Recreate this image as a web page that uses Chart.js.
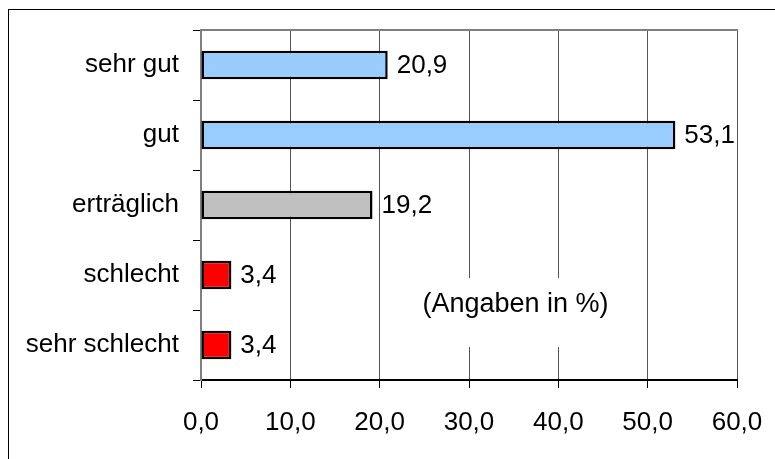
<!DOCTYPE html>
<html>
<head>
<meta charset="utf-8">
<script src="https://cdn.jsdelivr.net/npm/chart.js@4/dist/chart.umd.min.js"></script>
<style>
html,body{margin:0;padding:0;background:#fff;}
#wrap{width:775px;height:459px;position:relative;}
</style>
</head>
<body>
<div id="wrap"><canvas id="c" width="775" height="459"></canvas></div>
<script>
const categories = ["sehr gut", "gut", "erträglich", "schlecht", "sehr schlecht"];
const values = [20.9, 53.1, 19.2, 3.4, 3.4];
const barColors = ["#99CCFF", "#99CCFF", "#C0C0C0", "#FF0000", "#FF0000"];
const xTicks = [0, 10, 20, 30, 40, 50, 60];
const noteText = "(Angaben in %)";

const FONT = '"Liberation Sans", Arial, sans-serif';
const FS = 26;
const fmt = v => Number(v).toFixed(1).replace('.', ',');

const deco = {
  id: 'deco',
  beforeDraw(chart) {
    const ctx = chart.ctx;
    ctx.save();
    ctx.fillStyle = '#fff';
    ctx.fillRect(0, 0, chart.width, chart.height);
    ctx.strokeStyle = '#000';
    ctx.lineWidth = 1;
    ctx.strokeRect(8.5, 9.5, 800, 500);
    ctx.restore();
  },
  beforeDatasetsDraw(chart) {
    const ctx = chart.ctx;
    const a = chart.chartArea;
    ctx.save();
    ctx.strokeStyle = '#808080';
    ctx.lineWidth = 2;
    ctx.beginPath();
    ctx.moveTo(a.left, a.top);
    ctx.lineTo(a.right + 1, a.top);
    ctx.stroke();
    const xs = chart.scales.x;
    const cx = xs.getPixelForValue(35.2);
    ctx.fillStyle = '#fff';
    ctx.fillRect(cx - 96, 278, 192, 69);
    ctx.fillStyle = '#000';
    ctx.font = '27px ' + FONT;
    ctx.textAlign = 'center';
    ctx.textBaseline = 'middle';
    ctx.fillText(noteText, cx, 305);
    ctx.restore();
  },
  afterDatasetsDraw(chart) {
    const ctx = chart.ctx;
    const meta = chart.getDatasetMeta(0);
    ctx.save();
    ctx.fillStyle = '#000';
    ctx.font = FS + 'px ' + FONT;
    ctx.textAlign = 'left';
    ctx.textBaseline = 'middle';
    meta.data.forEach((el, i) => {
      ctx.fillText(fmt(values[i]), el.x + 9, el.y + 1);
    });
    ctx.restore();
  }
};

new Chart(document.getElementById('c'), {
  type: 'bar',
  data: {
    labels: categories,
    datasets: [{
      data: values,
      backgroundColor: barColors,
      borderColor: '#000',
      borderWidth: 2.5,
      borderSkipped: false,
      barPercentage: 0.41,
      categoryPercentage: 1
    }]
  },
  options: {
    indexAxis: 'y',
    responsive: false,
    animation: false,
    devicePixelRatio: 1,
    layout: { padding: { top: 30, right: 38, left: 0, bottom: 0 } },
    plugins: { legend: { display: false }, tooltip: { enabled: false } },
    scales: {
      x: {
        min: 0, max: 60,
        afterBuildTicks(s) { s.ticks = xTicks.map(v => ({ value: v })); },
        afterFit(s) { s.height = 79; s.paddingLeft = 0; s.paddingRight = 0; },
        ticks: {
          color: '#000',
          font: { size: FS, family: FONT },
          padding: 19,
          maxRotation: 0,
          callback: v => fmt(v)
        },
        grid: { color: '#555', lineWidth: 1, tickLength: 8, tickColor: '#000' },
        border: { display: true, color: '#000', width: 2 }
      },
      y: {
        afterFit(s) { s.width = 201; s.paddingTop = 0; s.paddingBottom = 0; },
        ticks: {
          color: '#000',
          font: { size: FS, family: FONT },
          padding: 14
        },
        grid: { offset: true, drawOnChartArea: false, tickLength: 8, tickColor: '#000', lineWidth: 1 },
        border: { display: true, color: '#808080', width: 2 }
      }
    }
  },
  plugins: [deco]
});
</script>
</body>
</html>
